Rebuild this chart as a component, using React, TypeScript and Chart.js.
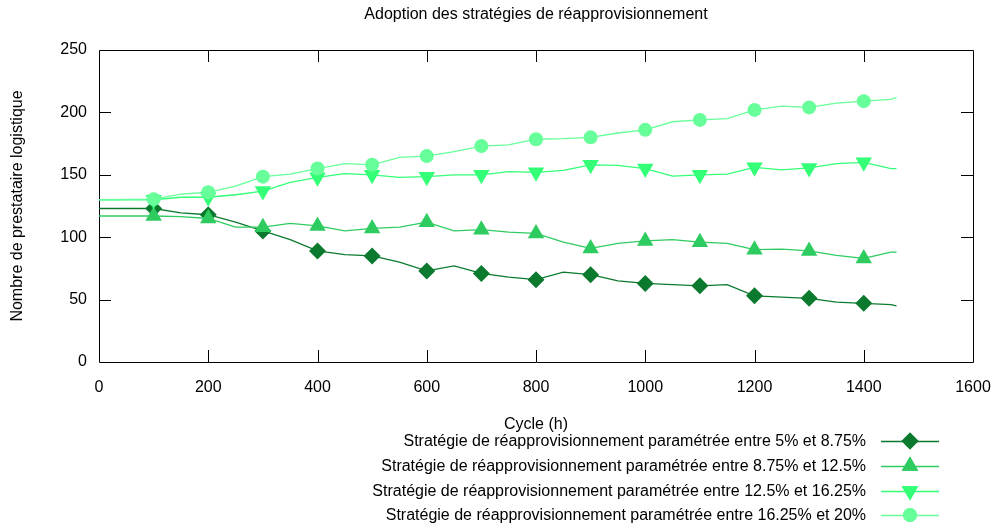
import React, { useEffect, useRef } from 'react';
import { Chart, registerables } from 'chart.js';
import { drawPoint } from 'chart.js/helpers';

Chart.register(...registerables);

const chartTitle = 'Adoption des stratégies de réapprovisionnement';
const xAxisTitle = 'Cycle (h)';
const yAxisTitle = 'Nombre de prestataire logistique';

const seriesLabels = [
  'Stratégie de réapprovisionnement paramétrée entre 5% et 8.75%',
  'Stratégie de réapprovisionnement paramétrée entre 8.75% et 12.5%',
  'Stratégie de réapprovisionnement paramétrée entre 12.5% et 16.25%',
  'Stratégie de réapprovisionnement paramétrée entre 16.25% et 20%',
];

const cycles = [
  0, 100, 150, 200, 250, 300, 350, 400, 450, 500, 550, 600, 650, 700, 750, 800,
  850, 900, 950, 1000, 1050, 1100, 1150, 1200, 1250, 1300, 1350, 1400, 1450, 1460,
];

const strat5to875 = [
  123, 123, 119.5, 118, 112, 105, 98, 89, 86, 85, 80, 73, 77, 71, 68, 66,
  72, 70, 65, 63, 62, 61, 62, 53, 52, 51, 48, 47, 46, 45,
];
const strat875to125 = [
  117, 117, 116.5, 115, 108, 108, 111, 109, 105, 107, 108, 112, 105, 106, 104, 103,
  96, 91, 95, 97, 98, 96, 95, 90, 90.5, 89, 85.5, 83, 88, 88,
];
const strat125to1625 = [
  130, 130, 132, 132, 134, 137, 144, 148, 151, 150, 148, 148.5, 150, 150, 152.5, 152,
  153.5, 158, 157.5, 155, 149, 150, 150.5, 156, 154, 155.5, 159, 160, 155, 155,
];
const strat1625to20 = [
  130, 130.5, 134.5, 136, 141, 148.5, 150.5, 155, 159, 158, 164, 165, 168.5, 173, 174, 178.5,
  179, 180, 183.5, 186, 192.5, 194, 195, 202, 205, 204, 207.5, 209, 210.5, 212,
];

const seriesValues = [strat5to875, strat875to125, strat125to1625, strat1625to20];
const markerCycles = [100, 200, 300, 400, 500, 600, 700, 800, 900, 1000, 1100, 1200, 1300, 1400];

const xMin = 0;
const xMax = 1600;
const xStep = 200;
const yMin = 0;
const yMax = 250;
const yStep = 50;

const colors = ['#0b7a2e', '#2ecc60', '#33ff77', '#66ff99'];
const pointStyles = ['rectRot', 'triangle', 'triangle', 'circle'];
const pointRotations = [0, 0, 180, 0];
const pointRadii = [8.5, 9.5, 9.5, 7];

const FONT_FAMILY = '"Liberation Sans", Arial, Helvetica, sans-serif';

const framePlugin = {
  id: 'gnuFrame',
  beforeDatasetsDraw(chart: any) {
    const { ctx, chartArea: a, scales } = chart;
    const xs = scales.x;
    const ys = scales.y;
    ctx.save();
    ctx.strokeStyle = '#000';
    ctx.lineWidth = 1;
    ctx.beginPath();
    ctx.rect(a.left + 0.5, a.top + 0.5, a.right - a.left, a.bottom - a.top);
    for (let v = xMin + xStep; v < xMax; v += xStep) {
      const px = Math.round(xs.getPixelForValue(v)) + 0.5;
      ctx.moveTo(px, a.bottom);
      ctx.lineTo(px, a.bottom - 12);
      ctx.moveTo(px, a.top);
      ctx.lineTo(px, a.top + 12);
    }
    for (let v = yMin + yStep; v < yMax; v += yStep) {
      const py = Math.round(ys.getPixelForValue(v)) + 0.5;
      ctx.moveTo(a.left, py);
      ctx.lineTo(a.left + 12, py);
      ctx.moveTo(a.right, py);
      ctx.lineTo(a.right - 12, py);
    }
    ctx.stroke();
    ctx.restore();
  },
  afterDraw(chart: any) {
    const { ctx, chartArea: a } = chart;
    ctx.save();
    ctx.fillStyle = '#000';
    ctx.font = `16px ${FONT_FAMILY}`;
    ctx.textAlign = 'center';
    ctx.textBaseline = 'middle';
    ctx.fillText(chartTitle, (a.left + a.right) / 2, 15);

    const rowY = [441, 466, 491, 515];
    chart.data.datasets.forEach((ds: any, i: number) => {
      const y = rowY[i];
      ctx.fillStyle = '#000';
      ctx.textAlign = 'right';
      ctx.fillText(ds.label, 866, y + 1);
      ctx.strokeStyle = ds.borderColor;
      ctx.lineWidth = 1.3;
      ctx.beginPath();
      ctx.moveTo(881, y + 0.5);
      ctx.lineTo(939, y + 0.5);
      ctx.stroke();
      ctx.fillStyle = ds.borderColor;
      drawPoint(ctx, { pointStyle: pointStyles[i], rotation: pointRotations[i], radius: pointRadii[i], borderWidth: 0 } as any, 910, y);
      ctx.fill();
    });
    ctx.restore();
  },
};

export default function App() {
  const ref = useRef<HTMLCanvasElement>(null);

  useEffect(() => {
    document.body.style.margin = '0';
    const datasets = seriesValues.map((vals, i) => ({
      label: seriesLabels[i],
      data: cycles.map((c, k) => ({ x: c, y: vals[k] })),
      borderColor: colors[i],
      backgroundColor: colors[i],
      borderWidth: 1.3,
      tension: 0,
      pointStyle: pointStyles[i],
      rotation: pointRotations[i],
      pointBorderWidth: 0,
      pointRadius: (ctx: any) => (markerCycles.includes(cycles[ctx.dataIndex]) ? pointRadii[i] : 0),
      order: 3 - i,
    }));

    const chart = new Chart(ref.current as HTMLCanvasElement, {
      type: 'line',
      data: { datasets },
      plugins: [framePlugin],
      options: {
        animation: false,
        responsive: false,
        devicePixelRatio: 1,
        layout: { padding: { top: 50, right: 26, left: 0, bottom: 0 } },
        font: { family: FONT_FAMILY },
        plugins: {
          legend: { display: false },
          title: { display: false },
          tooltip: { enabled: false },
        },
        scales: {
          x: {
            type: 'linear',
            min: xMin,
            max: xMax,
            grid: { display: false, drawTicks: false },
            border: { display: false },
            ticks: {
              stepSize: xStep,
              padding: 16,
              color: '#000',
              font: { size: 16, family: FONT_FAMILY },
              callback: (v: any) => String(v),
              maxRotation: 0,
              autoSkip: false,
            },
            title: {
              display: true,
              text: xAxisTitle,
              color: '#000',
              font: { size: 16, family: FONT_FAMILY },
              padding: { top: 0, bottom: 94.4 },
            },
            afterFit: (s: any) => {
              s.height = 167;
              s.paddingLeft = 0;
              s.paddingRight = 0;
            },
          },
          y: {
            type: 'linear',
            min: yMin,
            max: yMax,
            grid: { display: false, drawTicks: false },
            border: { display: false },
            ticks: {
              stepSize: yStep,
              padding: 12,
              color: '#000',
              font: { size: 16, family: FONT_FAMILY },
              callback: (v: any) => String(v),
            },
            title: {
              display: true,
              text: yAxisTitle,
              color: '#000',
              font: { size: 16, family: FONT_FAMILY },
              padding: { top: 8.4, bottom: 0 },
            },
            afterFit: (s: any) => {
              s.width = 99;
              s.paddingTop = 0;
              s.paddingBottom = 0;
            },
          },
        },
      } as any,
    });
    return () => chart.destroy();
  }, []);

  return (
    <div style={{ position: 'absolute', left: 0, top: 0, width: 999, height: 529, background: '#fff' }}>
      <canvas ref={ref} width={999} height={529} style={{ display: 'block', width: 999, height: 529 }} />
    </div>
  );
}
